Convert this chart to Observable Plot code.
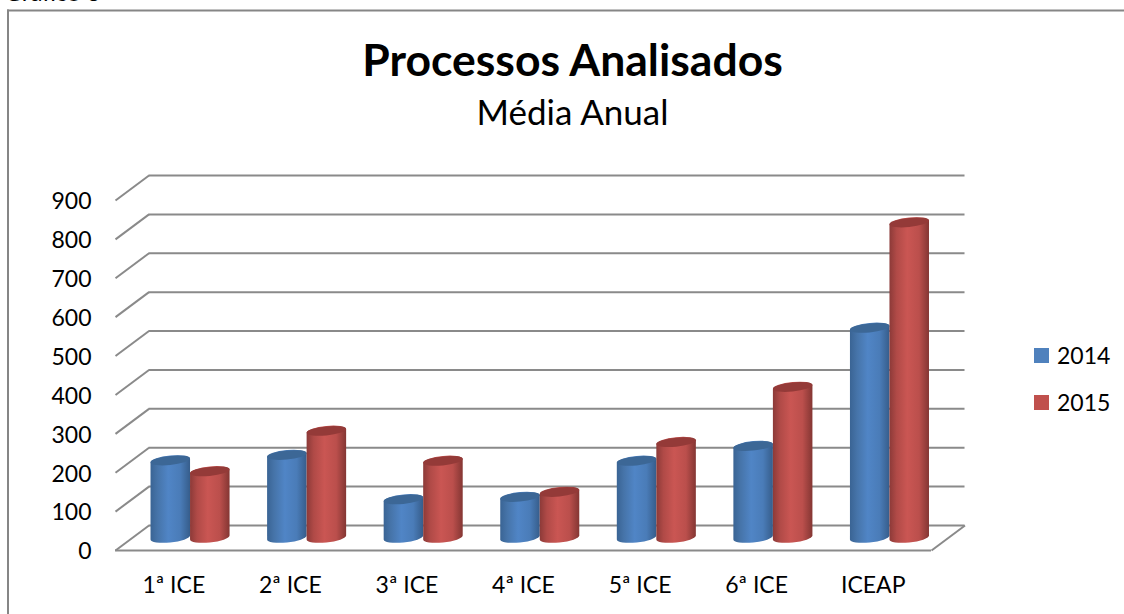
<!DOCTYPE html>
<html><head><meta charset="utf-8">
<script src="https://cdn.jsdelivr.net/npm/d3@7"></script>
<script src="https://cdn.jsdelivr.net/npm/@observablehq/plot@0.6"></script>
<style>
html,body{margin:0;padding:0;background:#fff;width:1124px;height:614px;overflow:hidden}
#wrap{position:relative;width:1124px;height:614px;font-family:Lato,sans-serif;color:#000}
.lg{position:absolute;left:1034px;display:flex;align-items:center;font-size:23px;line-height:16px;height:16px}
.lg i{display:block;width:15px;height:15px;margin-right:8px}
svg{display:block}
</style></head>
<body><div id="wrap"></div>
<script>
const categories = ["1ª ICE","2ª ICE","3ª ICE","4ª ICE","5ª ICE","6ª ICE","ICEAP"];
const years = ["2014","2015"];
const values2014 = [198,212,98,104,197,235,539];
const values2015 = [170,274,197,117,245,387,810];
const yTicks = [0,100,200,300,400,500,600,700,800,900];
const legendColors = ["#4f81bd","#c0504d"];

const depthX = 0.2875, depthY = 64.3;
const barW = 0.339;
const rows = categories.flatMap((c,i)=>[
  {i, s:0, v:values2014[i]},
  {i, s:1, v:values2015[i]}
]);
const x1 = d => d.i+0.5+depthX/2 + (d.s-1)*barW;
const x2 = d => x1(d)+barW;
const yBase = () => depthY/2;
const yTop = d => d.v+depthY/2;

function shear(index, scales, values, dims, ctx, next){
  const g = next(index, scales, values, dims, ctx);
  g.querySelectorAll("rect").forEach(r=>{
    const x=+r.getAttribute("x"), w=+r.getAttribute("width");
    const y=+r.getAttribute("y"), h=+r.getAttribute("height");
    const cx=x+w/2, cy=y+h;
    r.setAttribute("transform",`translate(${cx} ${cy}) skewY(-5.5) translate(${-cx} ${-cy})`);
  });
  return g;
}
const defs = () => {
  const d = document.createElementNS("http://www.w3.org/2000/svg","defs");
  d.innerHTML = `
  <linearGradient id="gb"><stop offset="0" stop-color="#3a6494"/><stop offset=".18" stop-color="#4674a9"/><stop offset=".45" stop-color="#5085c6"/><stop offset=".75" stop-color="#4a7cb8"/><stop offset="1" stop-color="#365d8b"/></linearGradient>
  <linearGradient id="gr"><stop offset="0" stop-color="#8c3a38"/><stop offset=".18" stop-color="#b04a47"/><stop offset=".45" stop-color="#ca5653"/><stop offset=".75" stop-color="#bb4f4c"/><stop offset="1" stop-color="#843633"/></linearGradient>`;
  return d;
};
const gridStyle = {stroke:"#8a8a8a", strokeWidth:2};
const cylinders = rows.flatMap(d=>[
  Plot.rect([d],{x1,x2,y1:yBase,y2:yTop,insetTop:-5,insetBottom:-5,rx:barW*58.3,ry:5,
    fill:d.s===0?"url(#gb)":"url(#gr)",render:shear}),
  Plot.rect([d],{x1,x2,y1:yTop,y2:yTop,insetTop:-4.5,insetBottom:-4.5,rx:barW*58.3,ry:4.5,
    fill:d.s===0?"#3c6796":"#943a38",render:shear})
]);

const chart = Plot.plot({
  width:1124,height:614,
  marginTop:0,marginRight:0,marginBottom:0,marginLeft:0,
  style:{fontFamily:"Lato,sans-serif",color:"#000",background:"#fff",overflow:"hidden"},
  x:{domain:[0,7],range:[115,931],axis:null},
  y:{domain:[0,900],range:[550,200],axis:null},
  marks:[
    defs,
    Plot.frame({anchor:"left",insetLeft:7.5,insetTop:10,stroke:"#868686",strokeWidth:2}),
    Plot.frame({anchor:"top",insetLeft:7.5,insetTop:10,stroke:"#868686",strokeWidth:2}),
    Plot.text(["Gráfico 3"],{frameAnchor:"top-left",dx:4,dy:-17,fontSize:24,textAnchor:"start",fill:"#000"}),
    Plot.text(["Processos Analisados"],{frameAnchor:"top",dx:10,dy:44,fontSize:44.5,fontWeight:700,fill:"#000"}),
    Plot.text(["Média Anual"],{frameAnchor:"top",dx:10,dy:100,fontSize:35,fill:"#000"}),
    Plot.ruleY(yTicks,{y:d=>d+depthY,x1:depthX,x2:7+depthX,...gridStyle}),
    Plot.link(yTicks,{x1:0,y1:d=>d,x2:depthX,y2:d=>d+depthY,...gridStyle}),
    Plot.link([0],{x1:7,y1:0,x2:7+depthX,y2:depthY,...gridStyle}),
    Plot.ruleY([0],{x1:0,x2:7,...gridStyle}),
    ...cylinders,
    Plot.text(yTicks,{x:0,y:d=>d,text:d=>String(d),textAnchor:"end",dx:-24,dy:1.5,fontSize:23,fill:"#000"}),
    Plot.text(categories,{x:(d,i)=>i+0.5,frameAnchor:"bottom",dy:-22,text:d=>d,fontSize:23,fill:"#000"})
  ]
});
const wrap = document.getElementById("wrap");
wrap.appendChild(chart);
years.forEach((yr,k)=>{
  const e=document.createElement("div");
  e.className="lg"; e.style.top=(347+k*47)+"px";
  e.innerHTML=`<i style="background:${legendColors[k]}"></i><span>${yr}</span>`;
  wrap.appendChild(e);
});
</script></body></html>
